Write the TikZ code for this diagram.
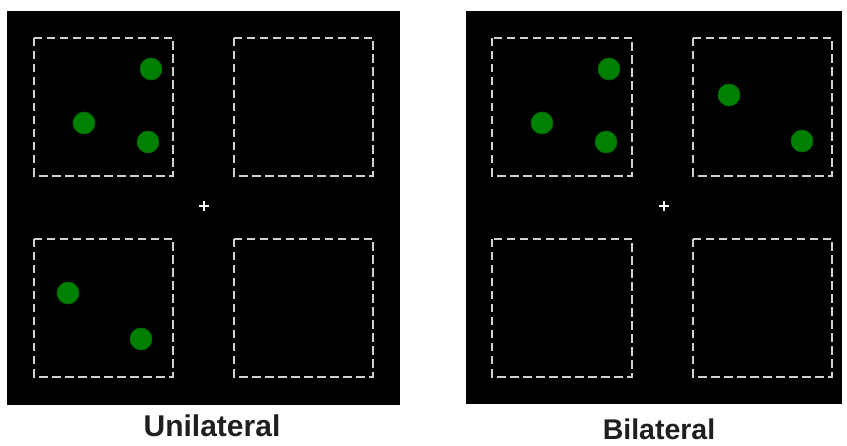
\documentclass[tikz,border=0pt]{standalone}
\usepackage{fontspec}
\setmainfont{Liberation Sans}
\begin{document}
\begin{tikzpicture}[x=1pt,y=-1pt,
  panel/.style={fill=black,draw=none},
  zone/.style={draw=white!82!black,line width=1.8pt,dash pattern=on 8.5pt off 4.5pt},
  dot/.style={circle,fill=green!50!black,draw=green!40!black,line width=0.6pt,minimum size=22pt,inner sep=0pt},
  fix/.style={draw=white,line width=1.3pt},
  lab/.style={text=black!88,inner sep=0pt,text depth=0pt}]
\fill[white] (0,0) rectangle (847,446);
\useasboundingbox (0,0) rectangle (847,446);
% left panel
\fill[panel] (7,11) rectangle (400,405);
\draw[zone] (34,38) rectangle (173,176);
\draw[zone] (234,38) rectangle (373,176);
\draw[zone] (34,239) rectangle (173,377);
\draw[zone] (234,239) rectangle (373,377);
\node[dot] (l1) at (151,69) {};
\node[dot] (l2) at (84,123) {};
\node[dot] (l3) at (148,142) {};
\node[dot] (l4) at (68,293) {};
\node[dot] (l5) at (141,339) {};
\coordinate (lc) at (204,206);
\draw[fix] ([xshift=-5pt]lc) -- ([xshift=5pt]lc);
\draw[fix] ([yshift=-5pt]lc) -- ([yshift=5pt]lc);
% right panel
\fill[panel] (466,11) rectangle (842,404);
\draw[zone] (492,38) rectangle (632,176);
\draw[zone] (693,38) rectangle (832,176);
\draw[zone] (492,239) rectangle (632,377);
\draw[zone] (693,239) rectangle (832,377);
\node[dot] (r1) at (609,69) {};
\node[dot] (r2) at (542,123) {};
\node[dot] (r3) at (606,142) {};
\node[dot] (r4) at (729,95) {};
\node[dot] (r5) at (802,141) {};
\coordinate (rc) at (664,206);
\draw[fix] ([xshift=-5pt]rc) -- ([xshift=5pt]rc);
\draw[fix] ([yshift=-5pt]rc) -- ([yshift=5pt]rc);
% labels
\node[lab,font=\fontsize{30}{36}\selectfont\bfseries,anchor=base] (t1) at (212,437) {Unilateral};
\node[lab,font=\fontsize{28.5}{34}\selectfont\bfseries,anchor=base] (t2) at (659,439.5) {Bilateral};
\end{tikzpicture}
\end{document}
